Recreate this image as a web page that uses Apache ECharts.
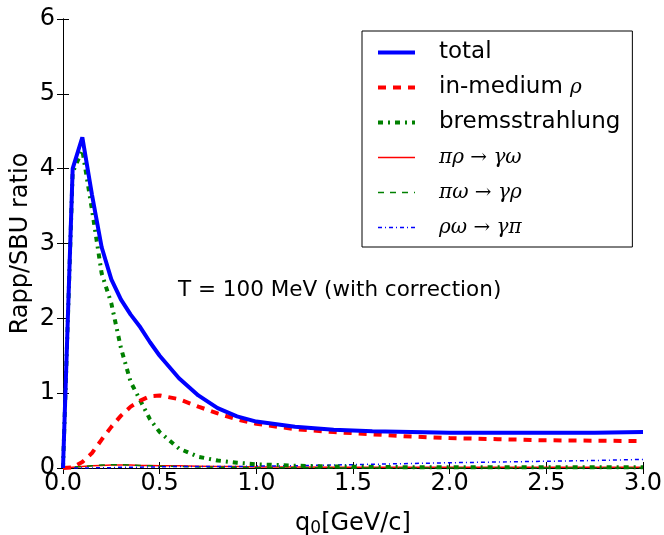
<!DOCTYPE html>
<html><head><meta charset="utf-8">
<script src="https://cdn.jsdelivr.net/npm/echarts@6/dist/echarts.min.js"></script>
<style>html,body{margin:0;padding:0;background:#fff}#c{width:664px;height:535px}</style>
</head><body><div id="c"></div>
<script>
const q0 = [0,0.05,0.1,0.15,0.2,0.25,0.3,0.35,0.4,0.45,0.5,0.6,0.7,0.8,0.9,1.0,1.2,1.4,1.6,1.8,2.0,2.25,2.5,2.75,3.0];
const total = [0,4.0,4.42,3.65,2.95,2.52,2.25,2.05,1.88,1.68,1.5,1.2,0.97,0.8,0.69,0.62,0.55,0.51,0.49,0.48,0.47,0.47,0.47,0.47,0.48];
const inMediumRho = [0,0.01,0.08,0.2,0.38,0.55,0.7,0.82,0.9,0.96,0.97,0.92,0.82,0.73,0.65,0.59,0.52,0.48,0.45,0.42,0.40,0.385,0.37,0.365,0.36];
const brems = [0,3.95,4.25,3.45,2.6,2.2,1.6,1.15,0.9,0.65,0.48,0.26,0.15,0.1,0.07,0.05,0.03,0.02,0.015,0.01,0.01,0.01,0.01,0.01,0.01];
const piRho = [0,0.01,0.02,0.03,0.035,0.04,0.04,0.04,0.035,0.035,0.03,0.03,0.025,0.02,0.02,0.015,0.015,0.01,0.01,0.01,0.01,0.01,0.01,0.01,0.01];
const piOmega = [0,0.01,0.02,0.03,0.04,0.045,0.045,0.04,0.035,0.03,0.025,0.02,0.015,0.01,0.01,0.005,0.005,0,0,0,0,0,0,0,0];
const rhoOmega = [0,0,0,0,0.005,0.005,0.01,0.01,0.01,0.015,0.015,0.02,0.02,0.02,0.02,0.025,0.03,0.04,0.05,0.06,0.07,0.08,0.09,0.1,0.115];
const xTicks = ['0.0','0.5','1.0','1.5','2.0','2.5','3.0'];
const names = ['total','in-medium ρ','bremsstrahlung','πρ → γω','πω → γρ','ρω → γπ'];

const pair = ys => q0.map((x,i)=>[x,ys[i]]);
const chart = echarts.init(document.getElementById('c'));
const font = 'DejaVu Sans';
const axisCommon = {
  axisLine:{show:true,lineStyle:{color:'#000',width:1}},
  axisTick:{show:true,inside:true,length:6,lineStyle:{color:'#000'}},
  splitLine:{show:false}
};
const styles = [
  ['#0000ff', 4, 'solid', 6],
  ['#ff0000', 4, [8,7], 5],
  ['#008000', 4, [5,5,2,5], 4],
  ['#ff0000', 1.5, 'solid', 3],
  ['#008000', 1.5, [6,6], 3],
  ['#0000ff', 1.5, [4,3,1,3], 3]
];
const seriesData = [total, inMediumRho, brems, piRho, piOmega, rhoOmega];
chart.setOption({
  animation:false,
  grid:{left:63,right:21,top:19,bottom:67,containLabel:false,outerBoundsMode:'none'},
  xAxis:[
    Object.assign({type:'value',min:0,max:3,interval:0.5,position:'bottom',
      name:'q{sub|0}[GeV/c]',nameLocation:'middle',nameGap:42,
      nameTextStyle:{fontFamily:font,fontSize:24,color:'#000',rich:{sub:{fontFamily:font,fontSize:17,verticalAlign:'bottom',padding:[10,0,0,0]}}},
      axisLabel:{fontFamily:font,fontSize:24,color:'#000',margin:4,formatter:v=>xTicks[Math.round(v*2)]}},axisCommon),
    Object.assign({type:'value',min:0,max:3,interval:0.5,position:'top',axisLabel:{show:false}},axisCommon)
  ],
  yAxis:[
    Object.assign({type:'value',min:0,max:6,interval:1,position:'left',
      name:'Rapp/SBU ratio',nameLocation:'middle',nameGap:30,nameMoveOverlap:false,
      nameTextStyle:{fontFamily:font,fontSize:24,color:'#000'},
      axisLabel:{fontFamily:font,fontSize:24,color:'#000',margin:8}},axisCommon),
    Object.assign({type:'value',min:0,max:6,interval:1,position:'right',axisLabel:{show:false}},axisCommon)
  ],
  legend:{
    left:362, top:31, orient:'vertical', itemGap:12, itemWidth:37, itemHeight:14,
    padding:[10,12,8,14], borderColor:'#000', borderWidth:1, backgroundColor:'#fff',
    itemStyle:{opacity:0},
    data:names.map((n,i)=>({name:n, lineStyle:{width:styles[i][1], color:styles[i][0], opacity:1}})),
    textStyle:{fontFamily:font,fontSize:23,color:'#000',lineHeight:23,padding:[0,0,0,19],
      rich:{m:{fontFamily:'DejaVu Serif',fontStyle:'italic',fontSize:20,lineHeight:23},
            n:{fontFamily:font,fontSize:23,lineHeight:23}}},
    formatter:function(n){
      if(n==='in-medium ρ') return '{n|in-medium }{m|ρ}';
      if(n.indexOf('→')>=0) return '{m|'+n+'}';
      return n;
    }
  },
  graphic:[{type:'text',left:178,top:279,style:{text:'T = 100 MeV (with correction)',font:'21.5px "DejaVu Sans"',fill:'#000'}}],
  series:names.map((n,i)=>({name:n, type:'line', data:pair(seriesData[i]), showSymbol:false, symbol:'none', z:styles[i][3],
    lineStyle:{color:styles[i][0], width:styles[i][1], type:styles[i][2], cap:'butt'}, itemStyle:{color:styles[i][0]}}))
});
</script></body></html>
